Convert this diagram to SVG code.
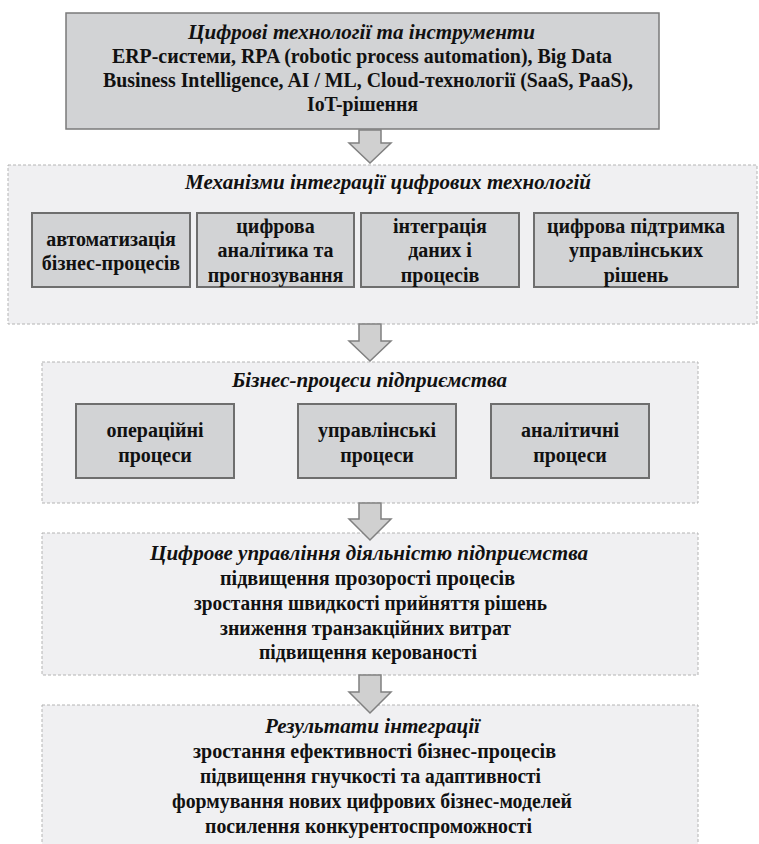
<svg xmlns="http://www.w3.org/2000/svg" width="759" height="844" viewBox="0 0 759 844">
<style>
.solid{fill:#d2d3d5;stroke:#7a7a7a;stroke-width:1.5}
.cont{fill:#f0f0f2;stroke:#b4b4b4;stroke-width:1;stroke-dasharray:3 2}
.sub{fill:#d2d3d5;stroke:#6e6e6e;stroke-width:2}
.arr{fill:#d0d0d0;stroke:#808080;stroke-width:1.5;stroke-linejoin:miter}
text{font-family:'Liberation Serif','DejaVu Serif',serif;font-weight:bold;font-size:20px;fill:#111;text-anchor:middle}
.t{font-style:italic;font-size:20px}
</style>
<rect x="0" y="0" width="759" height="844" fill="#ffffff"/>
<g id="tech">
<rect class="solid" x="66" y="13" width="593" height="116"/>
<text class="t" x="361.5" y="39" textLength="347" lengthAdjust="spacingAndGlyphs">Цифрові технології та інструменти</text>
<text x="362" y="63" textLength="500" lengthAdjust="spacingAndGlyphs">ERP-системи, RPA (robotic process automation), Big Data</text>
<text x="368" y="87" textLength="530" lengthAdjust="spacingAndGlyphs">Business Intelligence, AI / ML, Cloud-технології (SaaS, PaaS),</text>
<text x="362.5" y="111" textLength="111" lengthAdjust="spacingAndGlyphs">IoT-рішення</text>
</g>
<g id="mechanisms">
<rect class="cont" x="8" y="165" width="749" height="159"/>
<text class="t" x="388" y="189" textLength="406" lengthAdjust="spacingAndGlyphs">Механізми інтеграції цифрових технологій</text>
</g>
<g id="m1">
<rect class="sub" x="32" y="213" width="158" height="74"/>
<text x="111" y="246">автоматизація</text>
<text x="111" y="270">бізнес-процесів</text>
</g>
<g id="m2">
<rect class="sub" x="197" y="213" width="157" height="74"/>
<text x="275.5" y="233">цифрова</text>
<text x="275.5" y="257">аналітика та</text>
<text x="275.5" y="282">прогнозування</text>
</g>
<g id="m3">
<rect class="sub" x="361" y="213" width="158" height="74"/>
<text x="440" y="233">інтеграція</text>
<text x="440" y="257">даних і</text>
<text x="440" y="282">процесів</text>
</g>
<g id="m4">
<rect class="sub" x="534" y="213" width="204" height="74"/>
<text x="636" y="233">цифрова підтримка</text>
<text x="636" y="257">управлінських</text>
<text x="636" y="282">рішень</text>
</g>
<g id="processes">
<rect class="cont" x="42" y="362" width="656" height="141"/>
<text class="t" x="369.5" y="387" textLength="275" lengthAdjust="spacingAndGlyphs">Бізнес-процеси підприємства</text>
</g>
<g id="p1">
<rect class="sub" x="76" y="404" width="158" height="74"/>
<text x="155" y="437">операційні</text>
<text x="155" y="462">процеси</text>
</g>
<g id="p2">
<rect class="sub" x="298" y="404" width="158" height="74"/>
<text x="377" y="437">управлінські</text>
<text x="377" y="462">процеси</text>
</g>
<g id="p3">
<rect class="sub" x="491" y="404" width="158" height="74"/>
<text x="570" y="437">аналітичні</text>
<text x="570" y="462">процеси</text>
</g>
<g id="management">
<rect class="cont" x="42" y="533" width="656" height="142"/>
<text class="t" x="369" y="560" textLength="438" lengthAdjust="spacingAndGlyphs">Цифрове управління діяльністю підприємства</text>
<text x="367.5" y="585" textLength="295" lengthAdjust="spacingAndGlyphs">підвищення прозорості процесів</text>
<text x="370.5" y="610" textLength="353" lengthAdjust="spacingAndGlyphs">зростання швидкості прийняття рішень</text>
<text x="365.5" y="635" textLength="291" lengthAdjust="spacingAndGlyphs">зниження транзакційних витрат</text>
<text x="368" y="659" textLength="218" lengthAdjust="spacingAndGlyphs">підвищення керованості</text>
</g>
<g id="results">
<rect class="cont" x="42" y="705" width="656" height="150"/>
<text class="t" x="372.5" y="733" textLength="215" lengthAdjust="spacingAndGlyphs">Результати інтеграції</text>
<text x="374.5" y="758" textLength="363" lengthAdjust="spacingAndGlyphs">зростання ефективності бізнес-процесів</text>
<text x="370.5" y="783" textLength="341" lengthAdjust="spacingAndGlyphs">підвищення гнучкості та адаптивності</text>
<text x="372" y="808" textLength="400" lengthAdjust="spacingAndGlyphs">формування нових цифрових бізнес-моделей</text>
<text x="368.5" y="833" textLength="327" lengthAdjust="spacingAndGlyphs">посилення конкурентоспроможності</text>
</g>
<g id="connectors">
<path class="arr" d="M359,130 V143 H349 L370,163 L391,143 H381 V130 Z"/>
<path class="arr" d="M359,324 V341 H349 L370,361 L391,341 H381 V324 Z"/>
<path class="arr" d="M359,503 V519 H349 L370,540 L391,519 H381 V503 Z"/>
<path class="arr" d="M359,675 V692 H349 L370,713 L391,692 H381 V675 Z"/>
</g>
</svg>
